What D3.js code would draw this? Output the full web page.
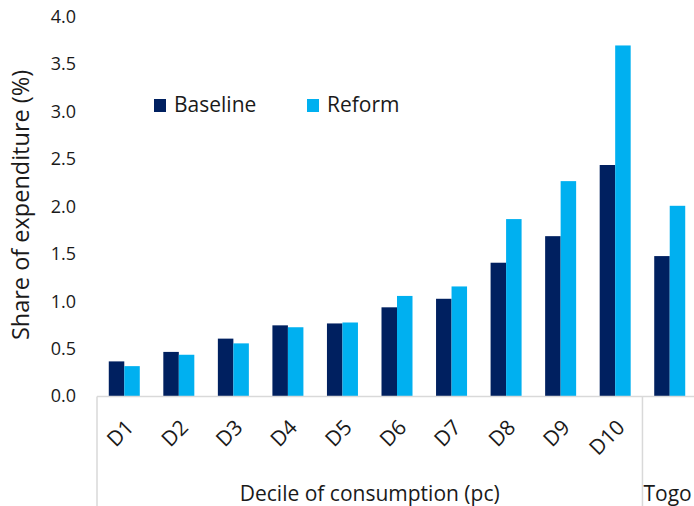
<!DOCTYPE html>
<html>
<head>
<meta charset="utf-8">
<script src="https://cdn.jsdelivr.net/npm/d3@7"></script>
<style>
  html, body { margin: 0; padding: 0; background: #fff; }
  svg { display: block; font-family: "Open Sans", "Noto Sans", sans-serif; }
</style>
</head>
<body>
<svg id="chart" width="694" height="506"></svg>
<script>
// Share of expenditure by consumption decile, baseline vs reform
const categories = ["D1", "D2", "D3", "D4", "D5", "D6", "D7", "D8", "D9", "D10", "Togo"];
const baseline = [0.37, 0.47, 0.61, 0.75, 0.77, 0.94, 1.03, 1.41, 1.69, 2.44, 1.48];
const reform   = [0.32, 0.44, 0.56, 0.73, 0.78, 1.06, 1.16, 1.87, 2.27, 3.70, 2.01];
const seriesNames = ["Baseline", "Reform"];
const colors = ["#002060", "#00B0F0"];
const yTicks = [0, 0.5, 1, 1.5, 2, 2.5, 3, 3.5, 4];

const svg = d3.select("#chart");
const plotLeft = 97, plotRight = 697, plotTop = 17, plotBottom = 396.5;
const textColor = "#1a1a1a";

const x = d3.scaleBand().domain(categories).range([plotLeft, plotRight]).paddingInner(0).paddingOuter(0);
const inner = d3.scaleBand().domain(seriesNames).range([0, 31]);
const y = d3.scaleLinear().domain([0, 4]).range([plotBottom, plotTop]);

// y-axis tick labels (no axis line, no gridlines)
const yAxis = d3.axisLeft(y).tickValues(yTicks).tickFormat(d3.format(".1f")).tickSize(0).tickPadding(0);
const gy = svg.append("g").attr("transform", "translate(76,0)").call(yAxis);
gy.select(".domain").remove();
gy.selectAll("text").attr("font-size", 18).attr("fill", textColor).attr("dy", "0.3em")
  .attr("font-family", "'Open Sans', 'Noto Sans', sans-serif");

// bars
const rows = categories.map((c, i) => ({ c, vals: [baseline[i], reform[i]] }));
const groups = svg.append("g").selectAll("g").data(rows).join("g")
  .attr("transform", d => `translate(${x(d.c) + (x.bandwidth() - 31) / 2},0)`);
groups.selectAll("rect").data(d => d.vals.map((v, k) => ({ v, k })))
  .join("rect")
  .attr("x", d => inner(seriesNames[d.k]))
  .attr("width", inner.bandwidth())
  .attr("y", d => y(d.v))
  .attr("height", d => y(0) - y(d.v))
  .attr("fill", d => colors[d.k]);

// category axis: baseline rule and group separators
const axisColor = "#d9d9d9";
svg.append("line").attr("x1", plotLeft).attr("x2", 694).attr("y1", plotBottom).attr("y2", plotBottom)
  .attr("stroke", axisColor).attr("stroke-width", 1.5);
[plotLeft, x("Togo")].forEach(px => {
  svg.append("line").attr("x1", px).attr("x2", px).attr("y1", plotBottom).attr("y2", 506)
    .attr("stroke", axisColor).attr("stroke-width", 1.5);
});

// rotated decile labels
svg.append("g").selectAll("text").data(categories.slice(0, 10)).join("text")
  .attr("transform", d => `translate(${x(d) + x.bandwidth() / 2},${418}) rotate(-45)`)
  .attr("text-anchor", "end")
  .attr("dy", "0.72em")
  .attr("font-size", 21)
  .attr("fill", textColor)
  .text(d => d);

// group labels
svg.append("text").attr("x", (plotLeft + x("Togo")) / 2).attr("y", 501)
  .attr("text-anchor", "middle").attr("font-size", 21).attr("fill", textColor)
  .text("Decile of consumption (pc)");
svg.append("text").attr("x", x("Togo") + 1).attr("y", 501)
  .attr("font-size", 21).attr("fill", textColor).text("Togo");

// y-axis title
svg.append("text").attr("transform", "translate(29,205) rotate(-90)")
  .attr("text-anchor", "middle").attr("font-size", 23.5).attr("fill", textColor)
  .text("Share of expenditure (%)");

// legend
const legendX = [154, 307];
const legend = svg.append("g").selectAll("g").data(seriesNames).join("g")
  .attr("transform", (d, i) => `translate(${legendX[i]},0)`);
legend.append("rect").attr("x", 0).attr("y", 99).attr("width", 12).attr("height", 13)
  .attr("fill", (d, i) => colors[i]);
legend.append("text").attr("x", 20).attr("y", 112).attr("font-size", 21).attr("fill", textColor)
  .text(d => d);
</script>
</body>
</html>
